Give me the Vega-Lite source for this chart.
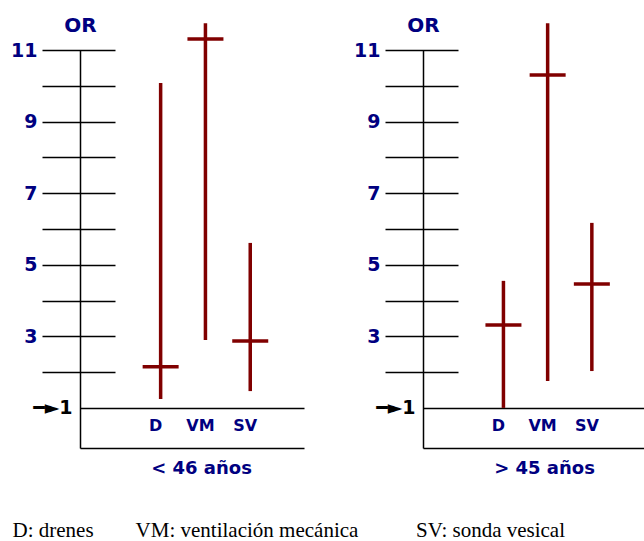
{
  "$schema": "https://vega.github.io/schema/vega-lite/v6.json",
  "padding": {"left": 10, "top": 15, "right": 0, "bottom": 0},
  "background": "white",
  "datasets": {
    "or": [
      {"grupo": "< 46 años", "var": "D", "or": 2.15, "inf": 1.25, "sup": 10.08},
      {"grupo": "< 46 años", "var": "VM", "or": 11.31, "inf": 2.9, "sup": 11.75},
      {"grupo": "< 46 años", "var": "SV", "or": 2.87, "inf": 1.47, "sup": 5.61},
      {"grupo": "> 45 años", "var": "D", "or": 3.32, "inf": 1.0, "sup": 4.55},
      {"grupo": "> 45 años", "var": "VM", "or": 10.3, "inf": 1.75, "sup": 11.75},
      {"grupo": "> 45 años", "var": "SV", "or": 4.46, "inf": 2.03, "sup": 6.17}
    ]
  },
  "data": {"name": "or"},
  "spacing": 49,
  "title": {
    "text": "D: drenes\u00a0\u00a0\u00a0\u00a0\u00a0\u00a0\u00a0\u00a0VM: ventilación mecánica\u00a0\u00a0\u00a0\u00a0\u00a0\u00a0\u00a0\u00a0\u00a0\u00a0\u00a0SV: sonda vesical",
    "orient": "bottom",
    "anchor": "start",
    "font": "Liberation Serif",
    "fontSize": 21,
    "fontWeight": "normal",
    "color": "black",
    "offset": 43,
    "dx": 2
  },
  "hconcat": [
    {
      "width": 224,
      "height": 398,
      "transform": [{"filter": "datum.grupo == '< 46 años'"}],
      "encoding": {
        "x": {
          "field": "var", "type": "nominal", "sort": ["D", "VM", "SV"],
          "scale": {"type": "band", "paddingInner": 0, "paddingOuter": 1, "align": 0.65},
          "axis": {
            "orient": "bottom", "domain": true, "domainColor": "black", "domainWidth": 1.5,
            "ticks": false, "grid": false, "labelPadding": -31, "labelOffset": -5, "labelAngle": 0,
            "labelFont": "DejaVu Sans", "labelFontWeight": "bold", "labelFontSize": 16, "labelColor": "#000080",
            "title": "< 46 años", "titleFont": "DejaVu Sans", "titleFontWeight": "bold", "titleFontSize": 18,
            "titleColor": "#000080", "titlePadding": 11, "titleX": 121, "titleAlign": "center"
          }
        }
      },
      "layer": [
        {
          "mark": {"type": "rule", "color": "#800000", "strokeWidth": 3.5},
          "encoding": {
            "y": {
              "field": "inf", "type": "quantitative", "scale": {"domain": [-0.12, 11], "nice": false, "zero": false},
              "axis": {
                "orient": "left", "offset": -35, "tickSize": 73, "tickWidth": 1.5, "tickColor": "black",
                "domain": false, "grid": false, "values": [1, 2, 3, 4, 5, 6, 7, 8, 9, 10, 11],
                "labelExpr": "datum.value == 1 ? '━►1' : (datum.value % 2 == 1 ? datum.label : '')",
                "labelFont": "DejaVu Sans", "labelFontWeight": "bold", "labelFontSize": 19,
                "labelColor": {"condition": {"test": "datum.value == 1", "value": "black"}, "value": "#000080"},
                "labelPadding": {"condition": {"test": "datum.value == 1", "value": -30}, "value": 5},
                "tickOpacity": {"condition": {"test": "datum.value == 1", "value": 0}, "value": 1},
                "labelOverlap": false, "labelBound": false,
                "title": "OR", "titleAngle": 0, "titleFont": "DejaVu Sans", "titleFontWeight": "bold",
                "titleFontSize": 20, "titleColor": "#000080", "titleAlign": "center", "titleBaseline": "middle",
                "titleX": -35, "titleY": -25
              }
            },
            "y2": {"field": "sup"}
          }
        },
        {
          "mark": {"type": "tick", "orient": "horizontal", "color": "#800000", "opacity": 1, "thickness": 3.5, "size": 36},
          "encoding": {
            "y": {
              "field": "or", "type": "quantitative",
              "axis": {
                "orient": "left", "offset": 0, "domain": true, "domainColor": "black", "domainWidth": 1.5,
                "ticks": false, "labels": false, "title": null, "grid": true, "values": [1],
                "gridColor": "black", "gridWidth": 1.5, "gridOpacity": 1
              }
            }
          }
        }
      ],
      "resolve": {"axis": {"y": "independent"}}
    },
    {
      "width": 221,
      "height": 398,
      "transform": [{"filter": "datum.grupo == '> 45 años'"}],
      "encoding": {
        "x": {
          "field": "var", "type": "nominal", "sort": ["D", "VM", "SV"],
          "scale": {"type": "band", "paddingInner": 0, "paddingOuter": 1, "align": 0.66},
          "axis": {
            "orient": "bottom", "domain": true, "domainColor": "black", "domainWidth": 1.5,
            "ticks": false, "grid": false, "labelPadding": -31, "labelOffset": -5, "labelAngle": 0,
            "labelFont": "DejaVu Sans", "labelFontWeight": "bold", "labelFontSize": 16, "labelColor": "#000080",
            "title": "> 45 años", "titleFont": "DejaVu Sans", "titleFontWeight": "bold", "titleFontSize": 18,
            "titleColor": "#000080", "titlePadding": 11, "titleX": 121, "titleAlign": "center"
          }
        }
      },
      "layer": [
        {
          "mark": {"type": "rule", "color": "#800000", "strokeWidth": 3.5},
          "encoding": {
            "y": {
              "field": "inf", "type": "quantitative", "scale": {"domain": [-0.12, 11], "nice": false, "zero": false},
              "axis": {
                "orient": "left", "offset": -35, "tickSize": 73, "tickWidth": 1.5, "tickColor": "black",
                "domain": false, "grid": false, "values": [1, 2, 3, 4, 5, 6, 7, 8, 9, 10, 11],
                "labelExpr": "datum.value == 1 ? '━►1' : (datum.value % 2 == 1 ? datum.label : '')",
                "labelFont": "DejaVu Sans", "labelFontWeight": "bold", "labelFontSize": 19,
                "labelColor": {"condition": {"test": "datum.value == 1", "value": "black"}, "value": "#000080"},
                "labelPadding": {"condition": {"test": "datum.value == 1", "value": -30}, "value": 5},
                "tickOpacity": {"condition": {"test": "datum.value == 1", "value": 0}, "value": 1},
                "labelOverlap": false, "labelBound": false,
                "title": "OR", "titleAngle": 0, "titleFont": "DejaVu Sans", "titleFontWeight": "bold",
                "titleFontSize": 20, "titleColor": "#000080", "titleAlign": "center", "titleBaseline": "middle",
                "titleX": -35, "titleY": -25
              }
            },
            "y2": {"field": "sup"}
          }
        },
        {
          "mark": {"type": "tick", "orient": "horizontal", "color": "#800000", "opacity": 1, "thickness": 3.5, "size": 36},
          "encoding": {
            "y": {
              "field": "or", "type": "quantitative",
              "axis": {
                "orient": "left", "offset": 0, "domain": true, "domainColor": "black", "domainWidth": 1.5,
                "ticks": false, "labels": false, "title": null, "grid": true, "values": [1],
                "gridColor": "black", "gridWidth": 1.5, "gridOpacity": 1
              }
            }
          }
        }
      ],
      "resolve": {"axis": {"y": "independent"}}
    }
  ],
  "config": {"view": {"stroke": null}}
}
